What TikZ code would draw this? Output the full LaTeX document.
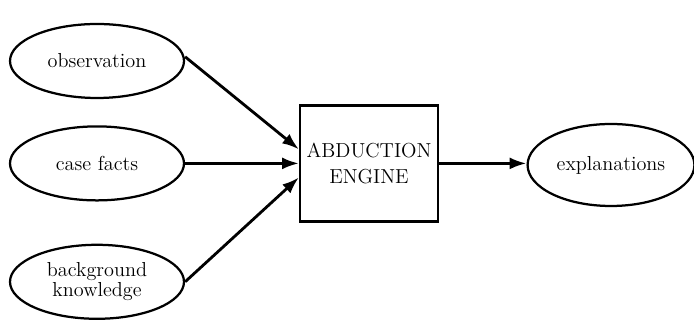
\documentclass[tikz,border=0pt]{standalone}
\usetikzlibrary{shapes.geometric,arrows.meta}

\begin{document}
\begin{tikzpicture}[line width=1.6pt]
    \tikzset{source/.style={draw, ellipse, minimum width=4.35cm, minimum height=1.85cm, align=center, font=\Large},
             engine/.style={draw, rectangle, minimum width=3.45cm, minimum height=2.9cm, align=center, font=\Large},
             flow/.style={line width=2pt, -{Latex[length=0.42cm,width=0.3cm]}}};

    \useasboundingbox (0, 0) rectangle (17.35, 8.125);

    % Inputs
    \node [source] (obs) at (2.425, 6.6) {observation};
    \node [source] (facts) at (2.425, 4.04) {case facts};
    \node [source, inner sep=1pt] (bg) at (2.425, 1.08) {background\\[-4pt]knowledge};

    % Engine
    \node [engine] (eng) at (9.225, 4.04) {ABDUCTION\\ENGINE};

    % Output
    \node [source, minimum width=4.15cm, minimum height=2.05cm] (expl) at (15.275, 4.0) {explanations};

    % Edges
    \draw [flow] ([yshift=3pt]obs.east) -- ([yshift=10pt]eng.west);
    \draw [flow] (facts.east) -- (eng.west);
    \draw [flow] (bg.east) -- ([yshift=-10pt]eng.west);
    \draw [flow] (eng.east) -- (eng.east -| expl.west);
  \end{tikzpicture}
\end{document}
